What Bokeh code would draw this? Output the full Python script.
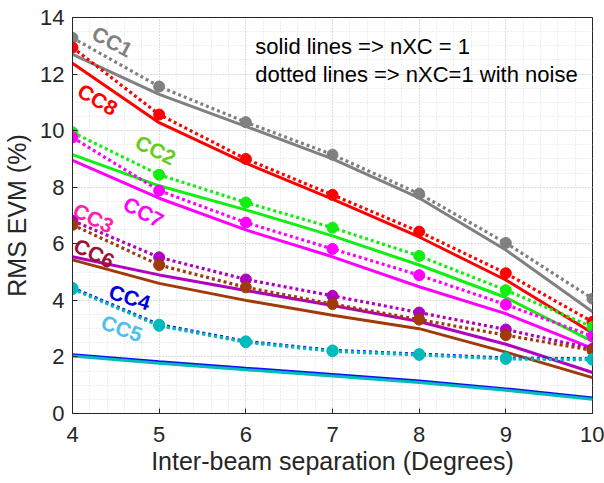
from bokeh.plotting import figure
from bokeh.models import SingleIntervalTicker, Range1d, Label
from bokeh.embed import file_html
from bokeh.resources import INLINE
import math

x = [4, 5, 6, 7, 8, 9, 10]

cc1_solid = [12.70, 11.28, 10.15, 9.00, 7.62, 5.78, 3.60]
cc1_noise = [13.28, 11.56, 10.30, 9.15, 7.77, 6.03, 4.06]
cc8_solid = [12.38, 10.28, 8.85, 7.58, 6.24, 4.72, 2.85]
cc8_noise = [12.94, 10.57, 9.00, 7.73, 6.43, 4.96, 3.24]
cc2_solid = [9.15, 8.05, 7.20, 6.28, 5.25, 4.10, 2.55]
cc2_noise = [9.94, 8.44, 7.46, 6.57, 5.57, 4.36, 3.06]
cc7_solid = [8.95, 7.61, 6.49, 5.54, 4.48, 3.53, 2.30]
cc7_noise = [9.76, 7.88, 6.75, 5.82, 4.89, 3.85, 2.73]
cc3_solid = [5.54, 4.90, 4.35, 3.82, 3.25, 2.45, 1.45]
cc3_noise = [6.82, 5.52, 4.74, 4.16, 3.57, 2.97, 2.29]
cc6_solid = [5.43, 4.60, 4.00, 3.47, 3.00, 2.17, 1.27]
cc6_noise = [6.67, 5.25, 4.46, 3.87, 3.32, 2.77, 2.23]
cc4_solid = [2.08, 1.83, 1.60, 1.38, 1.15, 0.87, 0.55]
cc4_noise = [4.44, 3.14, 2.55, 2.23, 2.10, 1.96, 1.93]
cc5_solid = [2.03, 1.78, 1.55, 1.33, 1.10, 0.82, 0.50]
cc5_noise = [4.40, 3.10, 2.52, 2.20, 2.07, 1.93, 1.90]

series_names = ["CC1", "CC8", "CC2", "CC7", "CC3", "CC6", "CC4", "CC5"]
line_colors = ["#808080", "#FF0000", "#11EE11", "#FF00FF", "#B000C0", "#A03A08", "#1010F0", "#00BBBB"]
marker_colors = ["#808080", "#FF0000", "#11EE11", "#FF00FF", "#B000C0", "#A03A08", "#00BBBB", "#00BBBB"]
label_colors = ["#808080", "#FF0000", "#66CC22", "#FF00FF", "#FF22AA", "#A01030", "#0000DD", "#4DBEEE"]
solid_data = [cc1_solid, cc8_solid, cc2_solid, cc7_solid, cc3_solid, cc6_solid, cc4_solid, cc5_solid]
noise_data = [cc1_noise, cc8_noise, cc2_noise, cc7_noise, cc3_noise, cc6_noise, cc4_noise, cc5_noise]

# label anchors (data coords) and angles (deg)
label_x = [4.46, 4.29, 4.96, 4.82, 4.24, 4.25, 4.66, 4.57]
label_y = [13.15, 11.10, 9.32, 7.12, 6.91, 5.67, 4.11, 3.01]
label_ang = [-28, -30, -26, -28, -26, -26, -17, -20]

FONT = "Liberation Sans"
AX = "#262626"

p = figure(width=604, height=483, output_backend="svg", toolbar_location=None,
           x_range=Range1d(4, 10), y_range=Range1d(0, 14),
           min_border_left=72, min_border_right=12, min_border_top=17, min_border_bottom=70)

p.xaxis.ticker = SingleIntervalTicker(interval=1, num_minor_ticks=5)
p.yaxis.ticker = SingleIntervalTicker(interval=2, num_minor_ticks=4)

for ax in (p.xaxis[0], p.yaxis[0]):
    ax.major_tick_in = 5
    ax.major_tick_out = 0
    ax.minor_tick_in = 0
    ax.minor_tick_out = 0
    ax.axis_line_color = AX
    ax.major_tick_line_color = AX
    ax.major_label_text_font = FONT
    ax.major_label_text_font_size = "22px"
    ax.major_label_text_color = AX
    ax.axis_label_text_font = FONT
    ax.axis_label_text_font_size = "25px"
    ax.axis_label_text_font_style = "normal"
    ax.axis_label_text_color = AX

p.xaxis.axis_label = "Inter-beam separation (Degrees)"
p.yaxis.axis_label = "RMS EVM (%)"
p.xaxis.major_label_standoff = 13
p.yaxis.major_label_standoff = 8
p.xaxis.axis_label_standoff = 2
p.yaxis.axis_label_standoff = 6

for g in (p.xgrid[0], p.ygrid[0]):
    g.grid_line_color = "#cfcfcf"
    g.grid_line_dash = "1 2"
    g.minor_grid_line_color = "#dcdcdc"
    g.minor_grid_line_dash = "1 2"

p.outline_line_color = AX
p.outline_line_width = 1

for sd, lc in zip(solid_data, line_colors):
    p.line(x, sd, line_color=lc, line_width=3)
for nd, lc, mc in zip(noise_data, line_colors, marker_colors):
    p.line(x, nd, line_color=lc, line_width=3.2, line_dash="3 3")
    p.scatter(x, nd, size=11, fill_color=mc, line_color=mc)

for name, lx, ly, la, c in zip(series_names, label_x, label_y, label_ang, label_colors):
    p.add_layout(Label(x=lx, y=ly, text=name, angle=math.radians(la),
                       text_align="center", text_baseline="middle",
                       text_font=FONT, text_font_size="21px", text_font_style="bold",
                       text_color=c))

p.add_layout(Label(x=6.11, y=12.98, text="solid lines => nXC = 1", text_font=FONT,
                   text_font_size="22px", text_baseline="middle", text_color="#000000"))
p.add_layout(Label(x=6.11, y=11.98, text="dotted lines => nXC=1 with noise", text_font=FONT,
                   text_font_size="22px", text_baseline="middle", text_color="#000000"))

p.background_fill_color = "white"
p.border_fill_color = "white"

open("out.html", "w").write(file_html(p, INLINE))
